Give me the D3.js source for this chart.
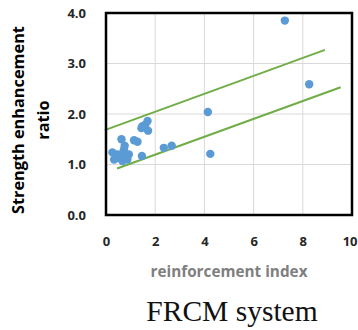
<!DOCTYPE html>
<html>
<head>
<meta charset="utf-8">
<script src="https://cdn.jsdelivr.net/npm/d3@7"></script>
<style>
  body { margin: 0; background: #fff; }
  svg { display: block; }
  .tick-label { font-family: "Open Sans", sans-serif; font-weight: bold; font-size: 13px; fill: #262626; }
</style>
</head>
<body>
<div id="chart"></div>
<script>
// reinforcement index vs strength enhancement ratio
const pointsX = [7.27, 8.26, 4.14, 4.24, 2.67, 2.35, 1.46, 1.69, 1.71, 1.48, 1.60, 1.44, 1.14, 1.28,
  0.63, 0.26, 0.33, 0.53, 0.73, 0.80, 0.87, 0.67, 0.60, 0.76, 0.46, 0.93];
const pointsY = [3.85, 2.59, 2.04, 1.21, 1.37, 1.33, 1.17, 1.86, 1.67, 1.76, 1.79, 1.72, 1.48, 1.45,
  1.50, 1.24, 1.10, 1.13, 1.30, 1.20, 1.10, 1.07, 1.20, 1.37, 1.20, 1.20];
// bounds lines [x0, y0, x1, y1]
const upperLine = [-0.05, 1.68, 8.9, 3.27];
const lowerLine = [0.45, 0.92, 9.54, 2.53];
const xTicks = [0, 2, 4, 6, 8, 10];
const yTicks = [0, 1, 2, 3, 4];

const width = 358, height = 330;
const margin = { top: 13, right: 6, bottom: 115, left: 106 };
const w = width - margin.left - margin.right;
const h = height - margin.top - margin.bottom;

const svg = d3.select('#chart').append('svg')
  .attr('width', width)
  .attr('height', height);

const x = d3.scaleLinear().domain([0, 10]).range([margin.left, margin.left + w]);
const y = d3.scaleLinear().domain([0, 4]).range([margin.top + h, margin.top]);

// gridlines
svg.append('g').selectAll('line.gx')
  .data(xTicks.slice(1, -1))
  .enter().append('line')
  .attr('x1', d => x(d)).attr('x2', d => x(d))
  .attr('y1', y(0)).attr('y2', y(4))
  .attr('stroke', '#d9d9d9').attr('stroke-width', 1);
svg.append('g').selectAll('line.gy')
  .data(yTicks.slice(1, -1))
  .enter().append('line')
  .attr('x1', x(0)).attr('x2', x(10))
  .attr('y1', d => y(d)).attr('y2', d => y(d))
  .attr('stroke', '#d9d9d9').attr('stroke-width', 1);

// tick labels
const xAxis = d3.axisBottom(x).tickValues(xTicks).tickSize(0).tickPadding(0).tickFormat(d3.format('d'));
const gx = svg.append('g').attr('transform', `translate(0,${y(0) + 26})`).call(xAxis);
gx.select('.domain').remove();
gx.selectAll('text').attr('class', 'tick-label').attr('dy', '0.35em');
// last label sits at the window edge: keep it inside
gx.selectAll('.tick text').filter(d => d === 10)
  .attr('text-anchor', 'end').attr('x', width - x(10) - 1);

const yAxis = d3.axisLeft(y).tickValues(yTicks).tickSize(0).tickPadding(0).tickFormat(d3.format('.1f'));
const gy = svg.append('g').attr('transform', `translate(${x(0) - 20},0)`).call(yAxis);
gy.select('.domain').remove();
gy.selectAll('text').attr('class', 'tick-label');

// bound lines
[upperLine, lowerLine].forEach(l => {
  svg.append('line')
    .attr('x1', x(l[0])).attr('y1', y(l[1]))
    .attr('x2', x(l[2])).attr('y2', y(l[3]))
    .attr('stroke', '#70ad47').attr('stroke-width', 2);
});

// points
svg.append('g').selectAll('circle')
  .data(pointsX.map((d, i) => [d, pointsY[i]]))
  .enter().append('circle')
  .attr('cx', d => x(d[0]))
  .attr('cy', d => y(d[1]))
  .attr('r', 4.2)
  .attr('fill', '#5b9bd5');

// frame
svg.append('rect')
  .attr('x', x(0)).attr('y', y(4))
  .attr('width', w).attr('height', h)
  .attr('fill', 'none').attr('stroke', '#000').attr('stroke-width', 2.5);

// axis titles
svg.append('text')
  .attr('x', 229).attr('y', 272).attr('dy', '0.35em')
  .attr('text-anchor', 'middle')
  .style('font-family', '"Open Sans", sans-serif').style('font-weight', 'bold')
  .style('font-size', '15.3px').style('fill', '#7f7f7f')
  .text('reinforcement index');

const yt = svg.append('text')
  .attr('transform', 'translate(18,120) rotate(-90)')
  .attr('text-anchor', 'middle')
  .style('font-family', '"Open Sans", sans-serif').style('font-weight', 'bold')
  .style('font-size', '16.3px').style('fill', '#000');
yt.append('tspan').attr('x', 0).attr('dy', '0.35em').text('Strength enhancement');
yt.append('tspan').attr('x', 0).attr('dy', 25).text('ratio');

svg.append('text')
  .attr('x', 232).attr('y', 321)
  .attr('text-anchor', 'middle')
  .style('font-family', '"Liberation Serif", "Times New Roman", serif')
  .style('font-size', '29.5px').style('fill', '#111')
  .text('FRCM system');
</script>
</body>
</html>
